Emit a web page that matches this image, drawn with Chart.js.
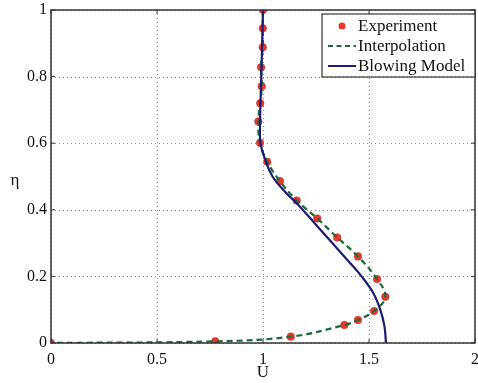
<!DOCTYPE html>
<html><head><meta charset="utf-8">
<script src="https://cdn.jsdelivr.net/npm/chart.js@4/dist/chart.umd.min.js"></script>
<style>html,body{margin:0;padding:0;background:#fff;overflow:hidden;width:478px;height:383px}#wrap{width:484px;height:383px}</style>
</head><body><div id="wrap"><canvas id="c" width="484" height="383"></canvas></div>
<script>
// Experiment points (U, eta)
const expU   = [1.000,0.999,0.999,0.991,0.994,0.987,0.978,0.986,1.020,1.080,1.159,1.256,1.350,1.448,1.538,1.577,1.524,1.448,1.384,1.131,0.775,0.000];
const expEta = [1.000,0.945,0.888,0.828,0.771,0.720,0.665,0.601,0.544,0.486,0.428,0.374,0.317,0.260,0.192,0.139,0.096,0.069,0.054,0.019,0.005,0.000];
// Interpolation curve passes through experiment points
const interpU   = expU;
const interpEta = expEta;
// Blowing model curve
const modelU   = [1.000,0.996,0.992,0.988,0.986,0.988,1.009,1.045,1.110,1.159,1.257,1.327,1.397,1.465,1.520,1.553,1.573,1.580];
const modelEta = [1.000,0.900,0.800,0.720,0.650,0.600,0.553,0.500,0.450,0.420,0.350,0.300,0.250,0.200,0.150,0.100,0.050,0.000];
const xTicks = [0,0.5,1,1.5,2];
const yTicks = [0,0.2,0.4,0.6,0.8,1];
const labels = ['Experiment','Interpolation','Blowing Model'];

const pts = (xs, ys) => xs.map((x,i)=>({x:x,y:ys[i]}));
const FONT = "'Liberation Serif', 'DejaVu Serif', serif";

const frame = {
  id:'frame',
  beforeDatasetsDraw(chart){
    const {ctx, chartArea:a} = chart;
    const xs = chart.scales.x, ys = chart.scales.y;
    ctx.save();
    ctx.strokeStyle='#8a8a8a'; ctx.lineWidth=1; ctx.setLineDash([1,3]);
    xTicks.forEach(v=>{const p=Math.round(xs.getPixelForValue(v))+0.5;
      ctx.beginPath();ctx.moveTo(p,a.top);ctx.lineTo(p,a.bottom);ctx.stroke();});
    yTicks.forEach(v=>{const p=Math.round(ys.getPixelForValue(v))+0.5;
      ctx.beginPath();ctx.moveTo(a.left,p);ctx.lineTo(a.right,p);ctx.stroke();});
    ctx.restore();
  },
  afterDraw(chart){
    const {ctx, chartArea:a} = chart;
    ctx.save();
    ctx.strokeStyle='#333'; ctx.lineWidth=1.5; ctx.setLineDash([]);
    ctx.strokeRect(a.left, a.top, a.right-a.left, a.bottom-a.top);
    const xs = chart.scales.x, ys = chart.scales.y;
    ctx.lineWidth=1;
    xTicks.forEach(v=>{const p=xs.getPixelForValue(v);
      ctx.beginPath();ctx.moveTo(p,a.bottom);ctx.lineTo(p,a.bottom-4);ctx.moveTo(p,a.top);ctx.lineTo(p,a.top+4);ctx.stroke();});
    yTicks.forEach(v=>{const p=ys.getPixelForValue(v);
      ctx.beginPath();ctx.moveTo(a.left,p);ctx.lineTo(a.left+4,p);ctx.moveTo(a.right,p);ctx.lineTo(a.right-4,p);ctx.stroke();});
    ctx.fillStyle='#111'; ctx.font="17px "+FONT; ctx.textAlign='center'; ctx.textBaseline='middle';
    ctx.fillText('U', xs.getPixelForValue(1), 373);
    ctx.fillText('η', 15, 181);
    const lx=322, ly=14, lw=a.right-322, lh=63;
    ctx.fillStyle='#fff'; ctx.fillRect(lx,ly,lw,lh);
    ctx.strokeStyle='#333'; ctx.lineWidth=1.2; ctx.strokeRect(lx,ly,lw,lh);
    const rows=[26,46,66];
    const ds = chart.data.datasets;
    ctx.beginPath(); ctx.arc(342,rows[0],3.5,0,Math.PI*2); ctx.fillStyle=ds[0].backgroundColor; ctx.fill();
    ctx.strokeStyle=ds[1].borderColor; ctx.lineWidth=2; ctx.setLineDash([5,3.5]);
    ctx.beginPath(); ctx.moveTo(328,rows[1]); ctx.lineTo(356,rows[1]); ctx.stroke();
    ctx.setLineDash([]); ctx.strokeStyle=ds[2].borderColor; ctx.lineWidth=2;
    ctx.beginPath(); ctx.moveTo(328,rows[2]); ctx.lineTo(356,rows[2]); ctx.stroke();
    ctx.fillStyle='#111'; ctx.font="17px "+FONT; ctx.textAlign='left';
    labels.forEach((t,i)=>ctx.fillText(t,358,rows[i]+1));
    ctx.restore();
  }
};

new Chart(document.getElementById('c'), {
  type:'scatter',
  data:{datasets:[
    {label:labels[0], data:pts(expU,expEta), showLine:false, pointRadius:3.8, pointBackgroundColor:'#e8372c', backgroundColor:'#e8372c', pointBorderColor:'#c02a22', pointBorderWidth:0.5, order:3},
    {label:labels[1], data:pts(interpU,interpEta), showLine:true, pointRadius:0, borderColor:'#1f6a3a', borderWidth:2.2, borderDash:[6,4], tension:0.4, order:2},
    {label:labels[2], data:pts(modelU,modelEta), showLine:true, pointRadius:0, borderColor:'#1c1c72', borderWidth:2.2, tension:0.4, order:1}
  ]},
  options:{
    responsive:false, animation:false, devicePixelRatio:1,
    layout:{padding:{top:10,right:9,left:0,bottom:0}},
    plugins:{legend:{display:false}, tooltip:{enabled:false}},
    scales:{
      x:{type:'linear', min:0, max:2,
        afterFit(s){s.height=40; s.paddingRight=0; s.paddingLeft=0;},
        afterBuildTicks(s){s.ticks=xTicks.map(v=>({value:v}));},
        ticks:{font:{family:FONT,size:16}, color:'#111', padding:7, maxRotation:0, callback:v=>String(v)},
        grid:{display:false, drawTicks:false},
        border:{display:false}
      },
      y:{type:'linear', min:0, max:1,
        afterFit(s){s.width=51; s.paddingTop=0; s.paddingBottom=0;},
        afterBuildTicks(s){s.ticks=yTicks.map(v=>({value:v}));},
        ticks:{font:{family:FONT,size:16}, color:'#111', padding:4, callback:v=>String(v)},
        grid:{display:false, drawTicks:false},
        border:{display:false}
      }
    }
  },
  plugins:[frame]
});
</script></body></html>
